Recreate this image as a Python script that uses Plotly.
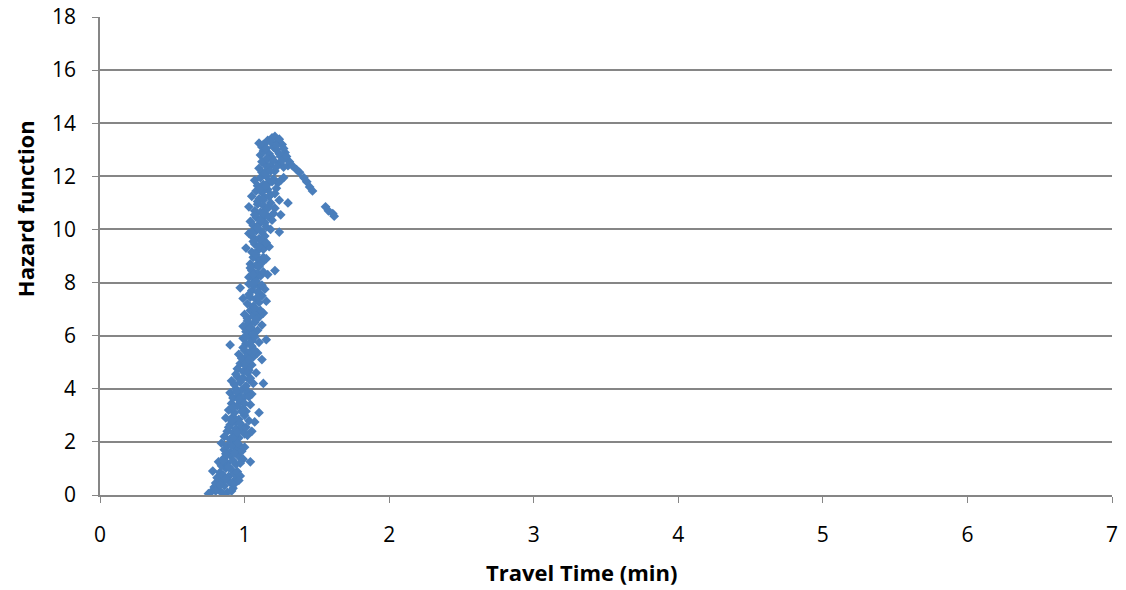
import plotly.graph_objects as go

# travel time (min) and hazard function values
travel_time = [
    0.75, 0.77, 0.79, 0.80, 0.82, 0.84, 0.86, 0.88, 0.90, 0.92, 0.94,
    0.78, 0.81, 0.83, 0.85, 0.87, 0.89, 0.91, 0.93, 0.95, 0.97,
    0.82, 0.84, 0.86, 0.88, 0.90, 0.92, 0.94, 0.96, 0.99, 1.04,
    0.84, 0.86, 0.88, 0.90, 0.92, 0.94, 0.96, 0.98, 1.00,
    0.86, 0.88, 0.90, 0.92, 0.94, 0.96, 0.98, 1.00, 1.02, 1.05,
    0.87, 0.90, 0.92, 0.94, 0.96, 0.98, 1.00, 1.03, 1.07,
    0.89, 0.91, 0.93, 0.95, 0.97, 0.99, 1.01, 1.04, 1.10,
    0.90, 0.92, 0.94, 0.96, 0.98, 1.00, 1.02, 1.05,
    0.91, 0.93, 0.95, 0.97, 0.99, 1.01, 1.03, 1.06, 1.13,
    0.95, 0.97, 0.99, 1.01, 1.03, 1.05, 1.08,
    0.96, 0.98, 1.00, 1.02, 1.04, 1.06, 1.09, 1.12,
    0.90, 0.99, 1.01, 1.03, 1.05, 1.07, 1.10, 1.15,
    0.99, 1.01, 1.03, 1.05, 1.07, 1.09, 1.12,
    1.00, 1.02, 1.04, 1.06, 1.08, 1.10, 1.13,
    0.99, 1.02, 1.04, 1.06, 1.08, 1.10, 1.12, 1.15,
    0.97, 1.03, 1.05, 1.07, 1.09, 1.11, 1.14,
    1.03, 1.05, 1.07, 1.09, 1.11, 1.13, 1.16, 1.21,
    1.04, 1.06, 1.08, 1.10, 1.12, 1.15,
    1.01, 1.05, 1.07, 1.09, 1.11, 1.13, 1.17,
    1.03, 1.06, 1.08, 1.10, 1.12, 1.14, 1.18, 1.24,
    1.04, 1.06, 1.08, 1.10, 1.12, 1.14, 1.16, 1.19, 1.25,
    1.03, 1.07, 1.09, 1.11, 1.13, 1.15, 1.18, 1.21, 1.30,
    1.05, 1.08, 1.10, 1.12, 1.14, 1.16, 1.18, 1.21, 1.24,
    1.07, 1.09, 1.11, 1.13, 1.15, 1.17, 1.20, 1.23, 1.27,
    1.10, 1.12, 1.14, 1.16, 1.18, 1.21, 1.24, 1.27, 1.30,
    1.11, 1.13, 1.15, 1.17, 1.19, 1.22, 1.25, 1.28,
    1.10, 1.12, 1.16, 1.19, 1.21, 1.23, 1.26,
    1.31, 1.33, 1.36, 1.38, 1.41, 1.43, 1.45, 1.47, 1.56, 1.58, 1.61, 1.62,
    # denser fill of the band
    0.80, 0.83, 0.87, 0.91, 0.85, 0.93, 0.96,
    0.85, 0.89, 0.93, 0.97, 0.91, 0.87, 0.95,
    0.89, 0.93, 0.97, 1.01, 0.95, 0.91,
    0.92, 0.96, 1.00, 0.94, 0.98, 1.03,
    0.94, 0.98, 1.02, 1.00, 1.04,
    0.99, 1.03, 1.05, 1.01, 1.07,
    1.02, 1.06, 1.04, 1.08, 1.11,
    1.03, 1.07, 1.05, 1.09, 1.12,
    1.04, 1.08, 1.06, 1.10, 1.13,
    1.06, 1.08, 1.10, 1.12, 1.15, 1.05,
    1.07, 1.09, 1.11, 1.13, 1.15, 1.17, 1.20,
    1.09, 1.11, 1.13, 1.15, 1.17, 1.19, 1.22, 1.25,
    1.12, 1.14, 1.16, 1.18, 1.20, 1.22, 1.24, 1.26, 1.29, 1.27,
    1.13, 1.15, 1.18, 1.20, 1.24, 1.22,
]
hazard = [
    0.05, 0.12, 0.30, 0.45, 0.20, 0.55, 0.35, 0.10, 0.48, 0.25, 0.60,
    0.90, 0.65, 0.85, 0.75, 1.00, 0.70, 0.95, 0.80, 0.88, 0.72,
    1.25, 1.10, 1.40, 1.20, 1.50, 1.30, 1.15, 1.45, 1.35, 1.25,
    1.95, 1.70, 1.85, 1.60, 2.00, 1.75, 1.90, 1.65, 1.80,
    2.20, 2.40, 2.10, 2.35, 2.50, 2.15, 2.45, 2.30, 2.25, 2.40,
    2.90, 2.65, 2.95, 2.75, 2.85, 2.60, 3.00, 2.80, 2.75,
    3.20, 3.45, 3.10, 3.35, 3.50, 3.25, 3.15, 3.40, 3.10,
    3.85, 3.65, 4.00, 3.75, 3.95, 3.70, 3.90, 3.80,
    4.30, 4.15, 4.45, 4.25, 4.40, 4.10, 4.35, 4.20, 4.20,
    4.75, 4.95, 4.65, 4.85, 4.70, 4.90, 4.60,
    5.30, 5.15, 5.45, 5.25, 5.40, 5.20, 5.35, 5.10,
    5.65, 5.90, 5.70, 6.00, 5.80, 5.95, 5.75, 5.85,
    6.35, 6.15, 6.45, 6.25, 6.50, 6.20, 6.40,
    6.80, 6.65, 6.95, 6.75, 6.90, 6.70, 6.85,
    7.40, 7.20, 7.45, 7.10, 7.35, 7.25, 7.50, 7.30,
    7.80, 7.95, 7.70, 7.90, 7.65, 7.85, 7.75,
    8.20, 8.45, 8.15, 8.35, 8.25, 8.40, 8.30, 8.45,
    8.70, 8.95, 8.65, 8.85, 8.75, 8.90,
    9.30, 9.15, 9.45, 9.20, 9.40, 9.25, 9.35,
    9.85, 9.70, 9.95, 9.65, 9.90, 9.75, 10.00, 9.90,
    10.30, 10.15, 10.45, 10.20, 10.40, 10.25, 10.50, 10.35, 10.55,
    10.85, 10.70, 10.95, 10.65, 10.90, 10.75, 11.00, 10.80, 11.00,
    11.25, 11.45, 11.15, 11.40, 11.20, 11.50, 11.30, 11.35, 11.10,
    11.85, 11.65, 11.95, 11.70, 12.00, 11.80, 11.90, 11.75, 11.95,
    12.30, 12.15, 12.45, 12.25, 12.40, 12.20, 12.50, 12.35, 12.40,
    12.80, 12.95, 12.65, 12.85, 12.70, 13.00, 12.75, 12.90,
    13.25, 13.10, 13.35, 13.45, 13.50, 13.30, 13.20,
    12.55, 12.40, 12.25, 12.15, 11.95, 11.80, 11.60, 11.45, 10.85, 10.70, 10.60, 10.50,
    # denser fill of the band
    0.15, 0.38, 0.62, 0.15, 0.05, 0.42, 0.55,
    1.30, 1.05, 1.60, 1.20, 1.85, 1.55, 1.95,
    2.55, 2.20, 2.70, 2.55, 2.35, 2.80,
    3.30, 3.60, 3.45, 3.90, 3.15, 3.70,
    4.55, 4.35, 4.60, 4.95, 4.40,
    5.55, 5.10, 5.60, 5.95, 5.45,
    6.55, 6.05, 6.30, 6.60, 6.95,
    7.55, 7.05, 7.95, 7.45, 7.90,
    8.55, 8.05, 8.30, 8.60, 8.95,
    9.55, 9.05, 9.35, 9.60, 9.50, 9.90,
    10.55, 10.05, 10.35, 10.60, 10.10, 10.85, 10.60,
    11.05, 11.55, 11.10, 11.65, 11.25, 11.80, 11.55, 11.85,
    12.55, 12.10, 12.65, 12.20, 12.60, 12.35, 12.85, 12.60, 12.75, 13.05,
    13.20, 13.05, 13.30, 13.10, 13.40, 13.15,
]

x_ticks = [0, 1, 2, 3, 4, 5, 6, 7]
y_ticks = [0, 2, 4, 6, 8, 10, 12, 14, 16, 18]

font_family = "'Open Sans', Lato, sans-serif"
grid_color = "#868686"

fig = go.Figure()
fig.add_trace(
    go.Scatter(
        x=travel_time,
        y=hazard,
        mode="markers",
        marker=dict(symbol="diamond", size=7.5, color="#4A7EBB", line=dict(width=0)),
        showlegend=False,
    )
)

fig.update_layout(
    width=1126,
    height=590,
    margin=dict(l=100, r=14, t=17, b=95),
    paper_bgcolor="white",
    plot_bgcolor="white",
    font=dict(family=font_family, size=21, color="black"),
    xaxis=dict(
        range=[0, 7],
        tickvals=x_ticks,
        showgrid=False,
        zeroline=False,
        showline=True,
        linecolor=grid_color,
        linewidth=1.5,
        ticks="outside",
        ticklen=6,
        tickcolor=grid_color,
        ticklabelstandoff=14,
        automargin=False,
    ),
    yaxis=dict(
        range=[0, 18],
        tickvals=y_ticks,
        showgrid=True,
        gridcolor=grid_color,
        gridwidth=1.5,
        zeroline=False,
        showline=True,
        linecolor=grid_color,
        linewidth=1.5,
        ticks="outside",
        ticklen=6,
        tickcolor=grid_color,
        ticklabelstandoff=12,
        automargin=False,
    ),
    annotations=[
        dict(
            text="<b>Travel Time (min)</b>",
            xref="paper", yref="paper",
            x=0.476, y=-0.161,
            xanchor="center", yanchor="middle",
            showarrow=False,
            font=dict(size=22),
        ),
        dict(
            text="<b>Hazard function</b>",
            xref="paper", yref="paper",
            x=-0.0741, y=0.598,
            xanchor="center", yanchor="middle",
            textangle=-90,
            showarrow=False,
            font=dict(size=22),
        ),
    ],
)

fig.write_html("out.html", config={"displayModeBar": False})

# drop the default body margin so the figure sits at the page origin
with open("out.html", encoding="utf-8") as f:
    html = f.read()
html = html.replace("<head>", "<head><style>body{margin:0;}</style>", 1)
with open("out.html", "w", encoding="utf-8") as f:
    f.write(html)
